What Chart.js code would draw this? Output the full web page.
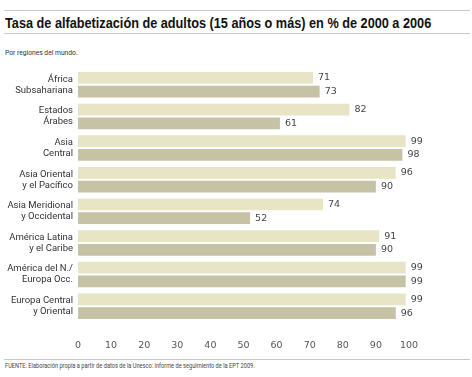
<!DOCTYPE html>
<html>
<head>
<meta charset="utf-8">
<script src="https://cdn.jsdelivr.net/npm/chart.js@4/dist/chart.umd.min.js"></script>
<style>
  html, body { margin: 0; padding: 0; background: #fff; }
  body { width: 472px; height: 377px; position: relative; overflow: hidden; }
  .rule { position: absolute; left: 4px; right: 2px; height: 0; border-top: 1.5px solid #c8c8c8; }
  .fit { position: absolute; left: 5px; white-space: nowrap; transform-origin: 0 0; }
  #title { top: 14px; font: bold 15px 'Liberation Sans', sans-serif; color: #111; }
  #subtitle { top: 48px; font: 8px Roboto, sans-serif; color: #333; }
  #footer { top: 362px; font: 7px Roboto, sans-serif; color: #444; }
  #wrap { position: absolute; left: 0; top: 60px; width: 472px; height: 298px; }
</style>
</head>
<body>
<div class="rule" style="top:10px"></div>
<div id="title" class="fit" data-w="426">Tasa de alfabetización de adultos (15 años o más) en % de 2000 a 2006</div>
<div class="rule" style="top:33px"></div>
<div id="subtitle" class="fit" data-w="73">Por regiones del mundo.</div>
<div id="wrap"><canvas id="chart"></canvas></div>
<div class="rule" style="top:359px"></div>
<div id="footer" class="fit" data-w="250">FUENTE: Elaboración propia a partir de datos de la Unesco: informe de seguimiento de la EPT 2009.</div>

<script>
// squeeze the condensed texts to their width in the picture
document.querySelectorAll('.fit').forEach(el => {
  const w = el.offsetWidth;
  el.style.transform = 'scaleX(' + (el.dataset.w / w) + ')';
});

// regions, two lines each
const regions = [
  ['África', 'Subsahariana'],
  ['Estados', 'Árabes'],
  ['Asia', 'Central'],
  ['Asia Oriental', 'y el Pacífico'],
  ['Asia Meridional', 'y Occidental'],
  ['América Latina', 'y el Caribe'],
  ['América del N./', 'Europa Occ.'],
  ['Europa Central', 'y Oriental']
];
const seriesA = [71, 82, 99, 96, 74, 91, 99, 99];
const seriesB = [73, 61, 98, 90, 52, 90, 99, 96];

const xTicks = [0, 10, 20, 30, 40, 50, 60, 70, 80, 90, 100];

// numbers at bar ends
const valueLabels = {
  id: 'valueLabels',
  afterDatasetsDraw(chart) {
    const ctx = chart.ctx;
    ctx.save();
    ctx.font = '9.5px "DejaVu Sans", sans-serif';
    ctx.fillStyle = '#444';
    ctx.textBaseline = 'middle';
    ctx.textAlign = 'left';
    chart.data.datasets.forEach((ds, i) => {
      chart.getDatasetMeta(i).data.forEach((bar, j) => {
        ctx.fillText(ds.data[j], bar.x + 5, bar.y);
      });
    });
    ctx.restore();
  }
};

new Chart(document.getElementById('chart').getContext('2d'), {
  type: 'bar',
  data: {
    labels: regions,
    datasets: [
      { label: '2000', data: seriesA, backgroundColor: '#e7e5c6', categoryPercentage: 0.87, barPercentage: 0.86 },
      { label: '2006', data: seriesB, backgroundColor: '#c6c2a5', categoryPercentage: 0.87, barPercentage: 0.86 }
    ]
  },
  options: {
    indexAxis: 'y',
    responsive: true,
    maintainAspectRatio: false,
    animation: false,
    layout: { padding: { top: 9, right: 63, left: 0, bottom: 0 } },
    plugins: { legend: { display: false }, tooltip: { enabled: false } },
    scales: {
      x: {
        min: 0, max: 100,
        afterBuildTicks(axis) { axis.ticks = xTicks.map(v => ({ value: v })); },
        afterFit(axis) { axis.height = 36; },
        grid: { display: false, drawTicks: false },
        border: { display: false },
        ticks: { padding: 18, color: '#555', font: { family: 'DejaVu Sans', size: 9.5 } }
      },
      y: {
        afterFit(axis) {
          axis.width = 78;
          // labels fit inside their rows, no extra room above
          axis.paddingTop = 0;
          axis.paddingBottom = 0;
        },
        grid: { display: false, drawTicks: false },
        border: { display: false },
        ticks: { padding: 5, color: '#333', font: { family: 'Roboto', size: 9.5, lineHeight: 1.15 } }
      }
    }
  },
  plugins: [valueLabels]
});
</script>
</body>
</html>
